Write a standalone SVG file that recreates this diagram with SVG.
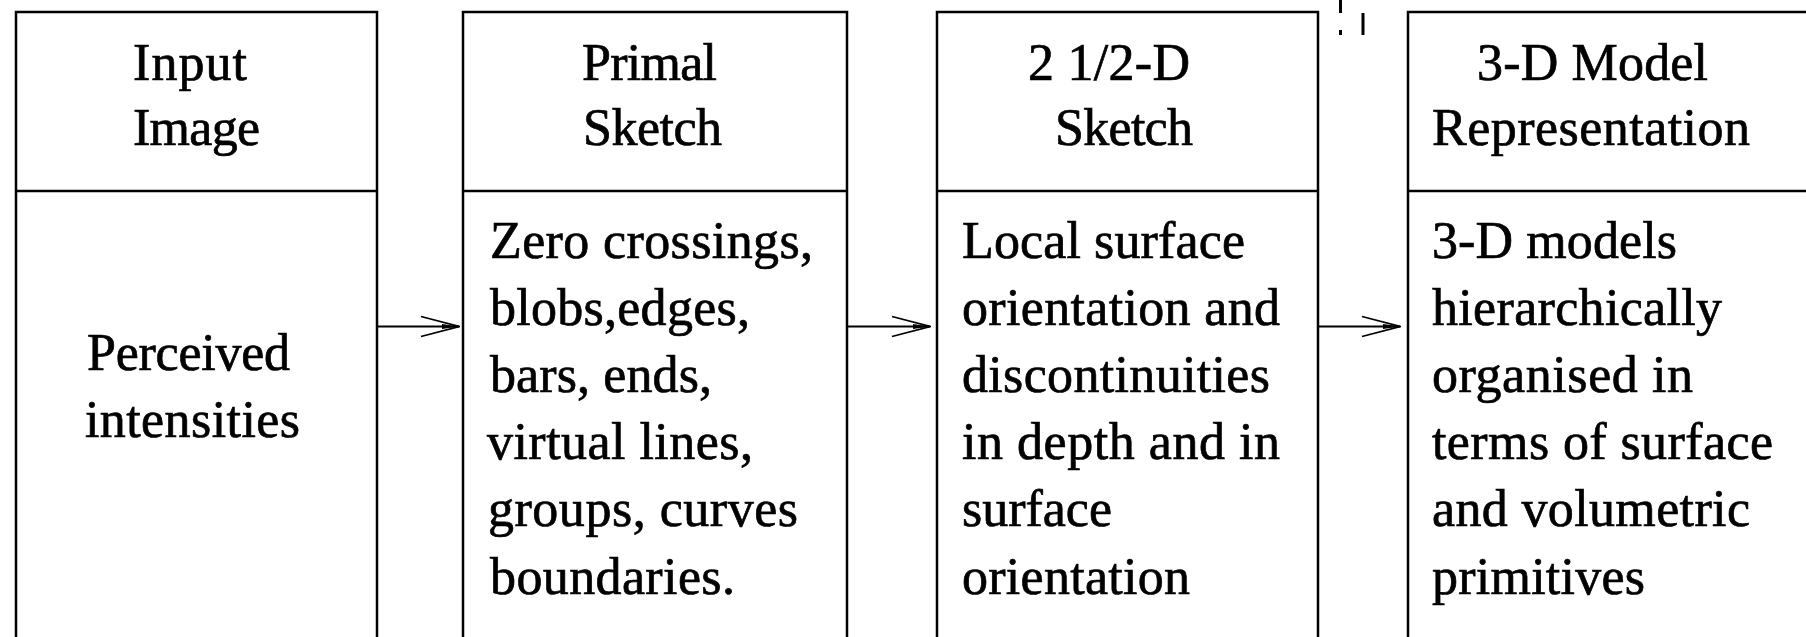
<svg xmlns="http://www.w3.org/2000/svg" width="1806" height="637" viewBox="0 0 1806 637">
<style>
.box{fill:#fff;stroke:#000;stroke-width:2.5}
.div{stroke:#000;stroke-width:2.5}
.t{font-family:"Liberation Serif","Times New Roman",serif;font-size:52px;fill:#000;stroke:#000;stroke-width:0.7}
.conn{stroke:#000;stroke-width:2;fill:none}
</style>
<defs>
<marker id="arr" viewBox="0 0 40 24" markerWidth="40" markerHeight="24" refX="39" refY="12" orient="auto" markerUnits="userSpaceOnUse">
<path d="M1,2 L39,12 L1,22" fill="none" stroke="#000" stroke-width="1.8"/>
<path d="M22,9.5 L39,12 L22,14.5 Z" fill="#000"/>
</marker>
</defs>
<rect width="1806" height="637" fill="#fff"/>
<g id="input-image">
<rect class="box" x="16" y="12" width="361" height="700"/>
<line class="div" x1="16" y1="191" x2="377" y2="191"/>
<text class="t" x="133" y="80" textLength="114" lengthAdjust="spacing">Input</text>
<text class="t" x="133" y="145" textLength="127" lengthAdjust="spacing">Image</text>
<text class="t" x="87" y="370" textLength="203" lengthAdjust="spacing">Perceived</text>
<text class="t" x="85" y="437" textLength="215" lengthAdjust="spacing">intensities</text>
</g>
<g id="primal-sketch">
<rect class="box" x="463" y="12" width="384" height="700"/>
<line class="div" x1="463" y1="191" x2="847" y2="191"/>
<text class="t" x="582" y="80" textLength="135" lengthAdjust="spacing">Primal</text>
<text class="t" x="583" y="145" textLength="139" lengthAdjust="spacing">Sketch</text>
<text class="t" x="490" y="258" textLength="323" lengthAdjust="spacing">Zero crossings,</text>
<text class="t" x="490" y="325" textLength="260" lengthAdjust="spacing">blobs,edges,</text>
<text class="t" x="490" y="392" textLength="222" lengthAdjust="spacing">bars, ends,</text>
<text class="t" x="487" y="459" textLength="266" lengthAdjust="spacing">virtual lines,</text>
<text class="t" x="488" y="526" textLength="310" lengthAdjust="spacing">groups, curves</text>
<text class="t" x="490" y="594" textLength="245" lengthAdjust="spacing">boundaries.</text>
</g>
<g id="two-half-d-sketch">
<rect class="box" x="937" y="12" width="381" height="700"/>
<line class="div" x1="937" y1="191" x2="1318" y2="191"/>
<text class="t" x="1028" y="80" textLength="162" lengthAdjust="spacing">2 1/2-D</text>
<text class="t" x="1055" y="145" textLength="138" lengthAdjust="spacing">Sketch</text>
<text class="t" x="962" y="258" textLength="283" lengthAdjust="spacing">Local surface</text>
<text class="t" x="962" y="325" textLength="318" lengthAdjust="spacing">orientation and</text>
<text class="t" x="962" y="392" textLength="308" lengthAdjust="spacing">discontinuities</text>
<text class="t" x="962" y="459" textLength="318" lengthAdjust="spacing">in depth and in</text>
<text class="t" x="962" y="526" textLength="150" lengthAdjust="spacing">surface</text>
<text class="t" x="962" y="594" textLength="228" lengthAdjust="spacing">orientation</text>
</g>
<g id="three-d-model">
<rect class="box" x="1408" y="12" width="500" height="700"/>
<line class="div" x1="1408" y1="191" x2="1806" y2="191"/>
<text class="t" x="1477" y="80" textLength="231" lengthAdjust="spacing">3-D Model</text>
<text class="t" x="1432" y="145" textLength="318" lengthAdjust="spacing">Representation</text>
<text class="t" x="1432" y="258" textLength="245" lengthAdjust="spacing">3-D models</text>
<text class="t" x="1432" y="325" textLength="290" lengthAdjust="spacing">hierarchically</text>
<text class="t" x="1432" y="392" textLength="261" lengthAdjust="spacing">organised in</text>
<text class="t" x="1432" y="459" textLength="341" lengthAdjust="spacing">terms of surface</text>
<text class="t" x="1432" y="526" textLength="318" lengthAdjust="spacing">and volumetric</text>
<text class="t" x="1432" y="594" textLength="213" lengthAdjust="spacing">primitives</text>
</g>
<g id="connectors">
<line class="conn" x1="377" y1="326.5" x2="459" y2="326.5" marker-end="url(#arr)"/>
<line class="conn" x1="847" y1="326.5" x2="930" y2="326.5" marker-end="url(#arr)"/>
<line class="conn" x1="1318" y1="326.5" x2="1400" y2="326.5" marker-end="url(#arr)"/>
</g>
<g id="marks">
<rect x="1339" y="0" width="3" height="13" fill="#000"/>
<rect x="1339" y="30" width="3" height="5" fill="#000"/>
<rect x="1361.5" y="13" width="3" height="22" fill="#000"/>
</g>
</svg>
